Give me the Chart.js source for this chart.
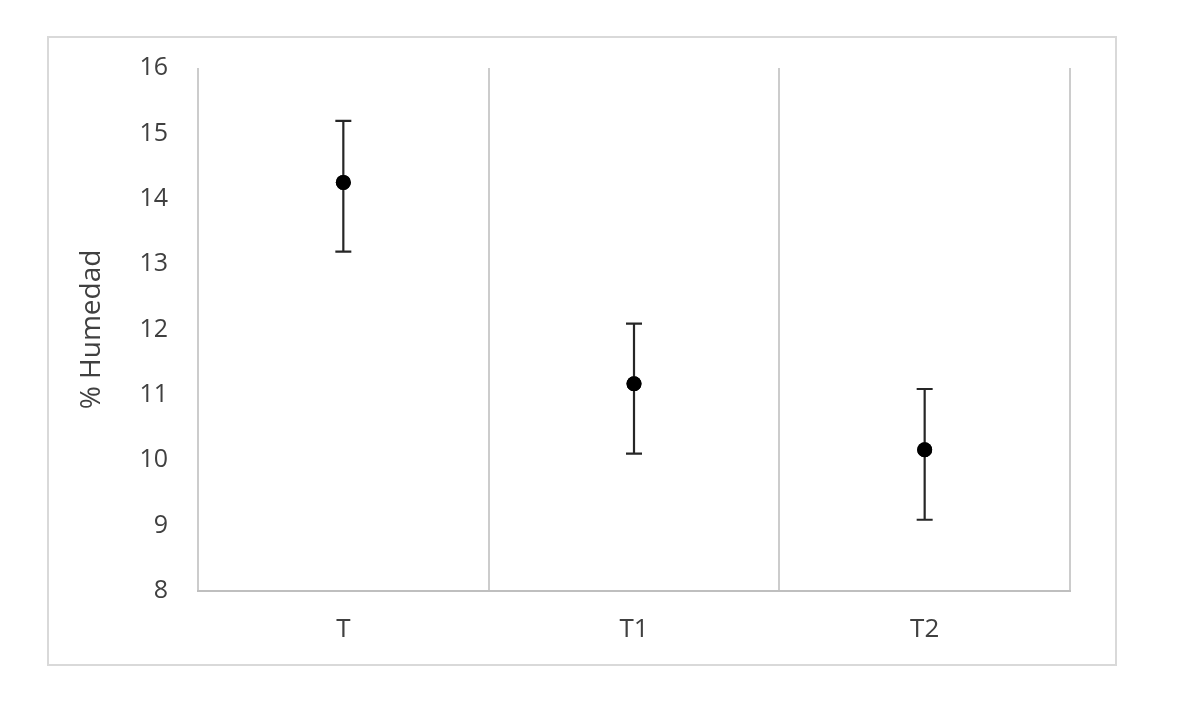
<!DOCTYPE html>
<html>
<head>
<meta charset="utf-8">
<script src="https://cdn.jsdelivr.net/npm/chart.js@4.4.1/dist/chart.umd.min.js"></script>
<style>
  html, body { margin: 0; padding: 0; background: #fff; }
  #wrap { width: 1181px; height: 713px; }
</style>
</head>
<body>
<div id="wrap"><canvas id="humedad" width="1181" height="713"></canvas></div>
<script>
const categories = ['T', 'T1', 'T2'];
const means = [14.25, 11.17, 10.16];
const upper = [15.19, 12.09, 11.09];
const lower = [13.19, 10.10, 9.09];
const yTicks = [8, 9, 10, 11, 12, 13, 14, 15, 16];

const textColor = '#404040';
const gridColor = '#cccccc';

// outer frame round the whole chart
const framePlugin = {
    id: 'frame',
    beforeDraw(chart) {
        const ctx = chart.ctx;
        ctx.save();
        ctx.strokeStyle = '#d9d9d9';
        ctx.lineWidth = 2;
        ctx.strokeRect(48, 37, 1068, 628);
        ctx.restore();
    }
};

// error bars from lower/upper arrays, placed with the chart scales
const errorBars = {
    id: 'errorBars',
    afterDatasetsDraw(chart) {
        const ctx = chart.ctx;
        const xs = chart.scales.x, ys = chart.scales.y;
        ctx.save();
        ctx.strokeStyle = '#262626';
        ctx.lineWidth = 2.2;
        for (let i = 0; i < categories.length; i++) {
            const x = xs.getPixelForValue(i);
            const yTop = ys.getPixelForValue(upper[i]);
            const yBot = ys.getPixelForValue(lower[i]);
            ctx.beginPath();
            ctx.moveTo(x, yTop); ctx.lineTo(x, yBot);
            ctx.moveTo(x - 8, yTop); ctx.lineTo(x + 8, yTop);
            ctx.moveTo(x - 8, yBot); ctx.lineTo(x + 8, yBot);
            ctx.stroke();
        }
        ctx.restore();
        // dots over the bars
        chart.getDatasetMeta(0).controller.draw();
    }
};

new Chart('humedad', {
    type: 'line',
    data: {
        labels: categories,
        datasets: [{
            data: means,
            showLine: false,
            pointRadius: 7.5,
            pointHoverRadius: 7.5,
            pointBackgroundColor: '#000',
            pointBorderColor: '#000',
            pointBorderWidth: 0
        }]
    },
    options: {
        responsive: false,
        animation: false,
        events: [],
        layout: { padding: { top: 68, right: 111, bottom: 0, left: 0 } },
        plugins: {
            legend: { display: false },
            tooltip: { enabled: false }
        },
        scales: {
            x: {
                offset: true,
                grid: { offset: true, color: gridColor, lineWidth: 2, drawTicks: false },
                border: { display: true, color: '#bfbfbf', width: 2 },
                ticks: {
                    color: textColor,
                    padding: 23,
                    font: { family: 'Open Sans', size: 26 }
                },
                afterFit(scale) { scale.height = 122; }
            },
            y: {
                min: 8,
                max: 16,
                afterBuildTicks(scale) { scale.ticks = yTicks.map(v => ({ value: v })); },
                grid: { display: false, drawTicks: false },
                border: { display: false },
                ticks: {
                    color: textColor,
                    padding: 30,
                    font: { family: 'Open Sans', size: 25 }
                },
                title: {
                    display: true,
                    text: '% Humedad',
                    color: textColor,
                    padding: { top: 75, bottom: 0 },
                    font: { family: 'Open Sans', size: 28 }
                },
                afterFit(scale) { scale.width = 198; }
            }
        }
    },
    plugins: [framePlugin, errorBars]
});
</script>
</body>
</html>
